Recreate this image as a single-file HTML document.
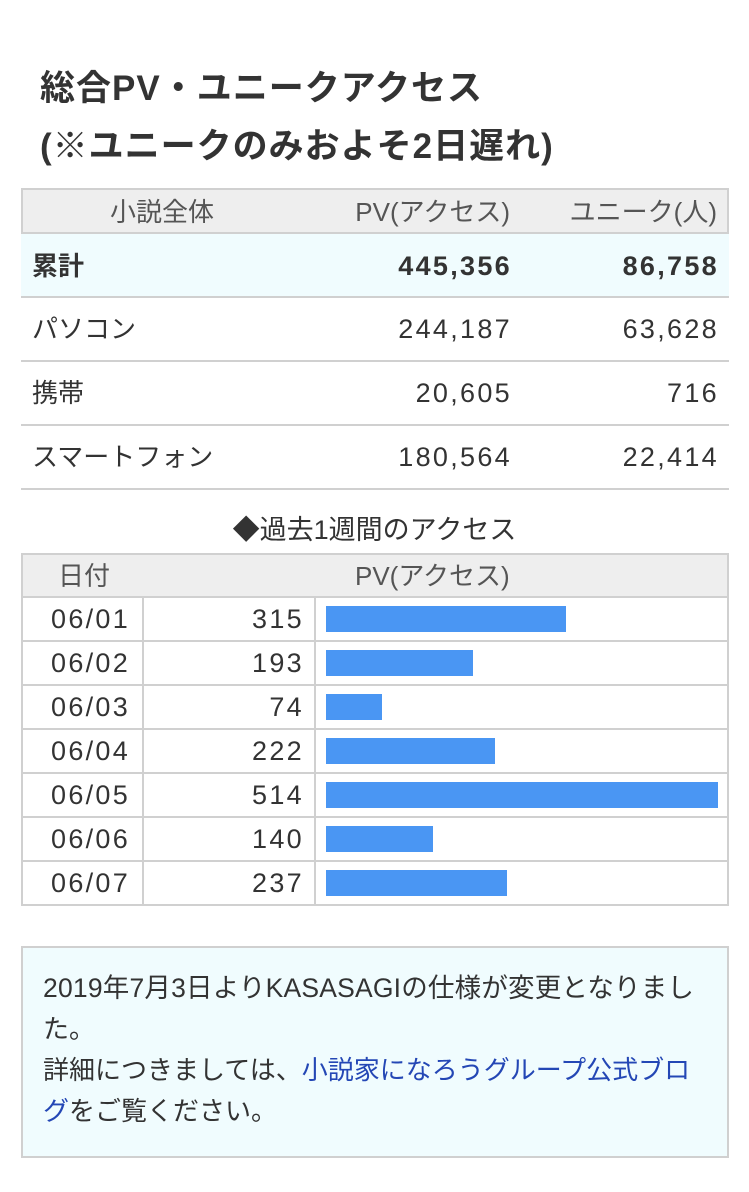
<!DOCTYPE html>
<html><head><meta charset="utf-8">
<style>
*{margin:0;padding:0;box-sizing:border-box}
body{width:749px;height:1192px;background:#fff;position:relative;overflow:hidden;font-family:"Liberation Sans","Noto Sans CJK JP",sans-serif;color:#333}
.abs{position:absolute;white-space:nowrap}
.title{font-size:35px;font-weight:bold;color:#333;left:40px;letter-spacing:1px}
.t{font-size:26px;line-height:1}
.n{font-size:27px;letter-spacing:2.3px}
.hl{position:absolute;left:21px;width:708px;height:2px;background:#d0d0d0}
.link{color:#2447b5}
</style></head><body>
<div class="abs title" style="top:60px">総合PV・ユニークアクセス</div>
<div class="abs title" style="top:118px">(※ユニークのみおよそ2日遅れ)</div>

<div>
<div class="abs" style="left:21px;top:188px;width:708px;height:46px;background:#eee;border:2px solid #d0d0d0"></div>
<div class="abs t" style="left:110px;top:199px;color:#555">小説全体</div>
<div class="abs t" style="right:239px;top:199px;color:#555">PV(アクセス)</div>
<div class="abs t" style="right:32px;top:199px;color:#555">ユニーク(人)</div>
<div class="abs" style="left:21px;top:234px;width:708px;height:62px;background:#f0fcfe"></div>
<div class="hl" style="top:296px"></div><div class="hl" style="top:360px"></div><div class="hl" style="top:424px"></div><div class="hl" style="top:488px"></div>
<div class="abs t" style="left:32px;top:253px;font-weight:bold">累計</div>
<div class="abs t n" style="right:237px;top:253px;font-weight:bold">445,356</div>
<div class="abs t n" style="right:30px;top:253px;font-weight:bold">86,758</div>
<div class="abs t" style="left:32px;top:316px">パソコン</div>
<div class="abs t n" style="right:237px;top:316px">244,187</div>
<div class="abs t n" style="right:30px;top:316px">63,628</div>
<div class="abs t" style="left:32px;top:380px">携帯</div>
<div class="abs t n" style="right:237px;top:380px">20,605</div>
<div class="abs t n" style="right:30px;top:380px">716</div>
<div class="abs t" style="left:32px;top:444px">スマートフォン</div>
<div class="abs t n" style="right:237px;top:444px">180,564</div>
<div class="abs t n" style="right:30px;top:444px">22,414</div>
</div>

<div class="abs t" style="left:0;width:749px;text-align:center;top:517px;font-size:27px">◆過去1週間のアクセス</div>

<div id="weekly">
<div class="abs" style="left:21px;top:553px;width:708px;height:353px;border:2px solid #d0d0d0"></div>
<div class="abs" style="left:21px;top:553px;width:708px;height:45px;background:#eee;border:2px solid #d0d0d0"></div>
<div class="abs t" style="left:58px;top:563px;color:#555">日付</div>
<div class="abs t" style="left:355px;top:563px;color:#555">PV(アクセス)</div>
<div class="abs" style="left:142px;top:597px;width:2px;height:308px;background:#d0d0d0"></div>
<div class="abs" style="left:314px;top:597px;width:2px;height:308px;background:#d0d0d0"></div>
</div>

<div class="abs" style="left:21px;top:946px;width:708px;height:212px;background:#f0fcfe;border:2px solid #d0d0d0"></div>
<div class="abs t" style="left:43px;top:975px;font-size:26.5px;letter-spacing:0.2px">2019年7月3日よりKASASAGIの仕様が変更となりまし</div>
<div class="abs t" style="left:43px;top:1016px;font-size:26px">た。</div>
<div class="abs t" style="left:43px;top:1057px;font-size:26px">詳細につきましては、<span class="link">小説家になろうグループ公式ブロ</span></div>
<div class="abs t" style="left:43px;top:1098px;font-size:26px"><span class="link">グ</span>をご覧ください。</div>

<script>
const dates = ["06/01","06/02","06/03","06/04","06/05","06/06","06/07"];
const pvValues = [315,193,74,222,514,140,237];
const root = document.getElementById('weekly');
const maxV = Math.max(...pvValues);
const rowTop = 597, rowH = 44, barX0 = 326, barMaxW = 392;
const xScale = v => v / maxV * barMaxW;
dates.forEach((d, i) => {
  const y = rowTop + i * rowH;
  if (i > 0) {
    const ln = document.createElement('div');
    ln.className = 'abs';
    ln.style.cssText = `left:21px;top:${y-1}px;width:708px;height:2px;background:#d0d0d0`;
    root.appendChild(ln);
  }
  const dl = document.createElement('div');
  dl.className = 'abs t n';
  dl.style.cssText = `left:51px;top:${y+9}px`;
  dl.textContent = d;
  
  
  root.appendChild(dl);
  const vl = document.createElement('div');
  vl.className = 'abs t n';
  vl.style.cssText = `right:445px;top:${y+9}px`;
  vl.textContent = pvValues[i];
  
  
  root.appendChild(vl);
  const b = document.createElement('div');
  b.className = 'abs';
  b.style.cssText = `left:${barX0}px;top:${y+9}px;width:${xScale(pvValues[i])}px;height:26px;background:#4a96f3`;
  
  
  root.appendChild(b);
});
</script>
</body></html>
